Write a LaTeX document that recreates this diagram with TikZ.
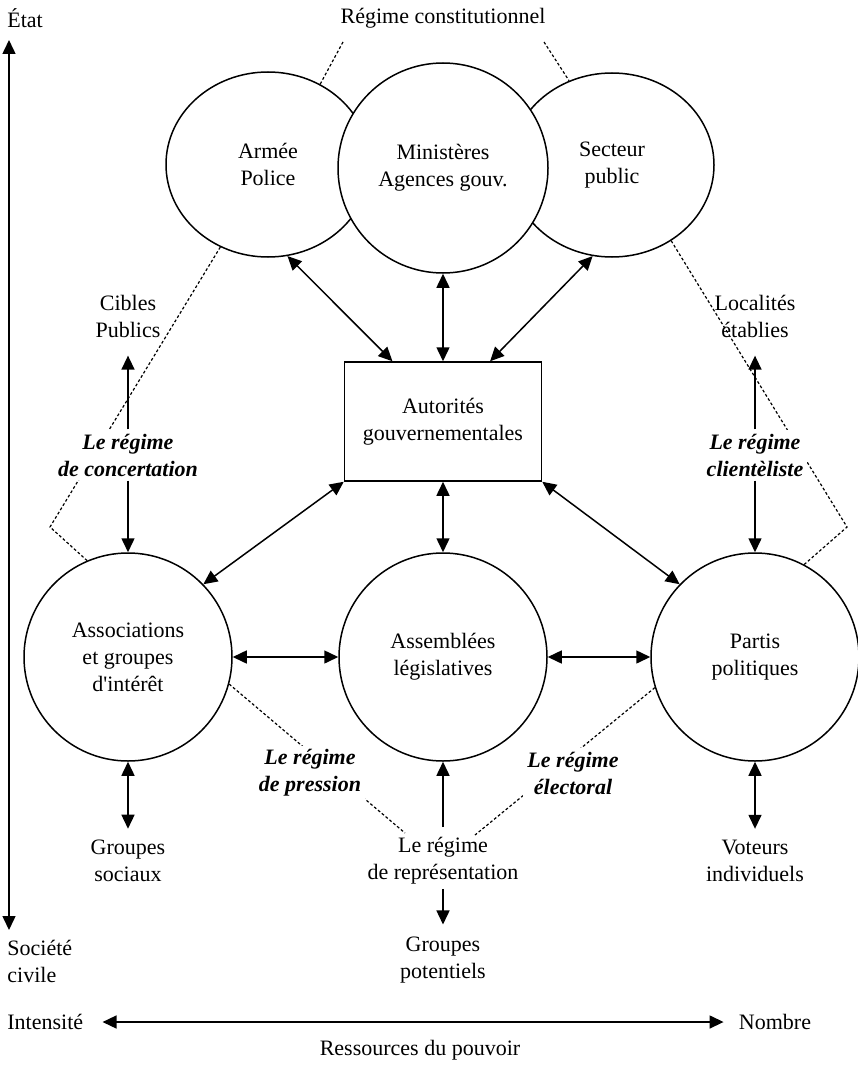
\documentclass[tikz,border=0pt]{standalone}
\usepackage{fontspec}
\setmainfont{Liberation Serif}[Ligatures=TeXOff]
\usetikzlibrary{arrows.meta, shapes.geometric}

\newcommand{\taille}{\fontsize{11}{13.5}\selectfont}

\tikzset{
	bulle/.style = {draw, ellipse, line width=0.75pt, fill=white, inner sep=0pt, align=center},
	rond/.style = {draw, circle, line width=0.75pt, minimum size=104pt, inner sep=0pt, align=center},
	cadre/.style = {draw, line width=0.75pt, minimum width=98.5pt, minimum height=59.5pt, align=center},
	txt/.style = {align=center, inner sep=2pt},
	regime/.style = {txt, fill=white, font=\taille\bfseries\itshape},
	fleche/.style = {line width=0.75pt, >={Triangle[length=7pt, width=6.5pt]}},
	pointille/.style = {line width=0.6pt, dash pattern=on 1.4pt off 1.1pt}
}

\begin{document}
\begin{tikzpicture}[x=0.5pt, y=-0.5pt, font=\taille]
	\useasboundingbox (0,0) rectangle (857,1065);

	% axes
	\node [txt, anchor=west] (etat) at (3,18) {État};
	\node [txt, anchor=west, align=left] (societe) at (3,961) {Société\\civile};
	\coordinate (haut) at (9,40);
	\coordinate (bas) at (9,930);
	\draw [fleche, <->] (haut) -- (bas);

	\node [txt, anchor=west] (intens) at (3,1022) {Intensité};
	\node [txt] (nombre) at (775,1022) {Nombre};
	\draw [fleche, <->, shorten <=7.5pt, shorten >=5.5pt] (intens.east) -- (nombre.west);
	\node [txt] (ressources) at (420,1050) {Ressources du pouvoir};

	% l'etat
	\node [txt] (constit) at (443,18) {Régime constitutionnel};
	\node [bulle, minimum width=102pt, minimum height=92.5pt] (armee) at (268,164.5) {Armée\\Police};
	\node [bulle, minimum width=102pt, minimum height=92pt] (secteur) at (612,165) {Secteur\\public};
	\node [bulle, minimum size=105pt] (minis) at (443,168) {Ministères\\Agences gouv.};

	\node [cadre] (auto) at (443,421.5) {Autorités\\gouvernementales};

	% la societe civile
	\node [rond] (assoc) at (128,657) {Associations\\et groupes\\d'intérêt};
	\node [rond] (assem) at (443,657) {Assemblées\\législatives};
	\node [rond] (partis) at (755,657) {Partis\\politiques};

	% pointilles
	\coordinate (cg) at (343,42);
	\coordinate (cd) at (544,42);
	\coordinate (coing) at (50,527);
	\coordinate (coind) at (847,527);
	\coordinate (repg) at (405,833);
	\coordinate (repd) at (475,835);
	\draw [pointille] (cg) -- (armee.57);
	\draw [pointille] (cd) -- (secteur.117.5);
	\draw [pointille] (armee.240) -- (coing) -- (assoc.113.5);
	\draw [pointille] (secteur.308.6) -- (coind) -- (partis.62);
	\draw [pointille] (assoc.345) -- (repg);
	\draw [pointille] (partis.197) -- (repd);

	\node [txt] (cibles) at (128,316) {Cibles\\Publics};
	\node [regime] (concert) at (128,455) {Le régime\\de concertation};
	\node [txt] (localites) at (755,316) {Localités\\établies};
	\node [regime] (client) at (755,455) {Le régime\\clientèliste};
	\node [regime] (pression) at (310,773) {Le régime\\de pression};
	\node [regime] (electoral) at (573,773) {Le régime\\électoral};

	\node [txt] (grsoc) at (128,861) {Groupes\\sociaux};
	\node [txt] (rep) at (443,861) {Le régime\\de représentation};
	\node [txt] (grpot) at (443,960) {Groupes\\potentiels};
	\node [txt] (voteurs) at (755,861) {Voteurs\\individuels};

	% fleches
	\draw [fleche, <->] (auto.130) -- (armee.282);
	\draw [fleche, <->] (auto.north) -- (minis.south);
	\draw [fleche, <->] (auto.52.6) -- (secteur.258);
	\draw [fleche, <->] (auto.south west) -- (assoc.44);
	\draw [fleche, <->] (auto.south) -- (assem.north);
	\draw [fleche, <->] (auto.south east) -- (partis.136);
	\draw [fleche, <->] (assoc.east) -- (assem.west);
	\draw [fleche, <->] (assem.east) -- (partis.west);

	\draw [fleche, ->, shorten >=7pt] (concert) -- (cibles);
	\draw [fleche, ->] (concert) -- (assoc);
	\draw [fleche, ->, shorten >=7pt] (client) -- (localites);
	\draw [fleche, ->] (client) -- (partis);

	\draw [fleche, <->, shorten >=3.5pt] (assoc) -- (grsoc);
	\draw [fleche, <->, shorten >=3.5pt] (partis) -- (voteurs);
	\draw [fleche, ->, shorten <=3pt] (rep) -- (assem);
	\draw [fleche, ->, shorten >=4pt] (rep) -- (grpot);
\end{tikzpicture}
\end{document}
